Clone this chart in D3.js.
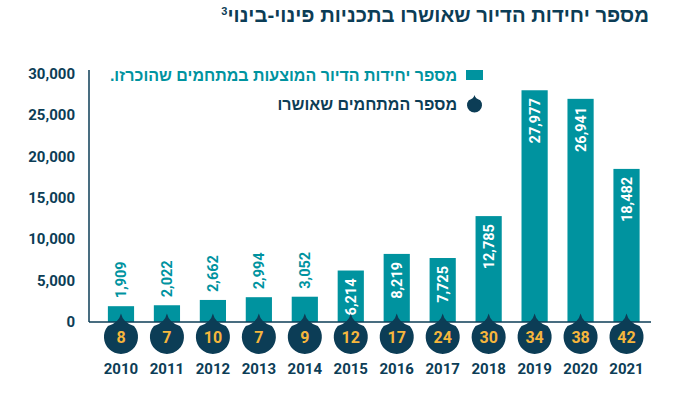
<!DOCTYPE html>
<html>
<head>
<meta charset="utf-8">
<script src="https://cdn.jsdelivr.net/npm/d3@7"></script>
<style>
  body { margin: 0; background: #fff; }
  svg { display: block; }
</style>
</head>
<body>
<div id="chart"></div>
<script>
// data
var years = ["2010", "2011", "2012", "2013", "2014", "2015", "2016", "2017", "2018", "2019", "2020", "2021"];
var units = [1909, 2022, 2662, 2994, 3052, 6214, 8219, 7725, 12785, 27977, 26941, 18482];
var projects = [8, 7, 10, 7, 9, 12, 17, 24, 30, 34, 38, 42];
var yTicks = [0, 5000, 10000, 15000, 20000, 25000, 30000];

var titleText = "מספר יחידות הדיור שאושרו בתכניות פינוי-בינוי";
var legendUnits = "מספר יחידות הדיור המוצעות במתחמים שהוכרזו.";
var legendProjects = "מספר המתחמים שאושרו";

var w = 689, h = 397;
var teal = "#00939f", navy = "#0c3d56", orange = "#f6b63c";
var numFont = "Roboto, 'DejaVu Sans', sans-serif";
var hebFont = "'Liberation Sans', 'DejaVu Sans', sans-serif";

var svg = d3.select("#chart").append("svg")
    .attr("width", w)
    .attr("height", h);

var x = d3.scaleBand()
    .domain(years)
    .range([98, 649.5])
    .paddingInner(0.43)
    .paddingOuter(0.215);

var y = d3.scaleLinear()
    .domain([0, 30000])
    .range([322, 73.5]);

// title
var title = svg.append("text")
    .attr("x", 649)
    .attr("y", 22)
    .attr("direction", "rtl")
    .style("font-family", hebFont)
    .style("font-weight", "bold")
    .style("font-size", "20.3px")
    .attr("fill", navy);
title.append("tspan").text(titleText);
title.append("tspan")
    .attr("dy", "-7")
    .style("font-size", "11px")
    .text("3");

// y axis labels
var yAxis = d3.axisLeft(y)
    .tickValues(yTicks)
    .tickSize(0)
    .tickPadding(14)
    .tickFormat(d3.format(","));

svg.append("g")
    .attr("transform", "translate(89,0)")
    .call(yAxis)
    .call(function(g) { g.select(".domain").remove(); })
    .selectAll("text")
    .style("font-family", numFont)
    .style("font-weight", "bold")
    .style("font-size", "15px")
    .attr("fill", navy);

// bars
svg.selectAll("rect.bar")
    .data(units)
    .enter().append("rect")
    .attr("class", "bar")
    .attr("x", function(d, i) { return x(years[i]); })
    .attr("width", x.bandwidth())
    .attr("y", function(d) { return y(d); })
    .attr("height", function(d) { return y(0) - y(d); })
    .attr("fill", teal);

// value labels (inside the bar when it is tall enough)
svg.selectAll("text.val")
    .data(units)
    .enter().append("text")
    .attr("class", "val")
    .attr("transform", function(d, i) {
        var cx = x(years[i]) + x.bandwidth() / 2;
        var ty = d >= 5000 ? y(d) + 8 : y(d) - 8;
        return "translate(" + cx + "," + ty + ") rotate(-90)";
    })
    .attr("dy", "0.36em")
    .attr("text-anchor", function(d) { return d >= 5000 ? "end" : "start"; })
    .style("font-family", numFont)
    .style("font-weight", "bold")
    .style("font-size", "14.5px")
    .attr("fill", function(d) { return d >= 5000 ? "#fff" : teal; })
    .text(function(d) { return d3.format(",")(d); });

// axes lines
svg.append("line")
    .attr("x1", 89).attr("x2", 89)
    .attr("y1", 70).attr("y2", 322)
    .attr("stroke", navy).attr("stroke-width", 1.5);
svg.append("line")
    .attr("x1", 89).attr("x2", 651)
    .attr("y1", 322).attr("y2", 322)
    .attr("stroke", navy).attr("stroke-width", 1.5);

// drop shaped markers
function dropPath(r, tip) {
    var a = 50 * Math.PI / 180;
    var px = r * Math.sin(a), py = -r * Math.cos(a);
    return "M0," + (-tip) +
        " Q" + (-r * 0.12) + "," + (py - r * 0.2) + " " + (-px) + "," + py +
        " A" + r + "," + r + " 0 1,0 " + px + "," + py +
        " Q" + (r * 0.12) + "," + (py - r * 0.2) + " 0," + (-tip) + "Z";
}

var drops = svg.selectAll("g.drop")
    .data(projects)
    .enter().append("g")
    .attr("class", "drop")
    .attr("transform", function(d, i) {
        return "translate(" + (x(years[i]) + x.bandwidth() / 2) + ",337)";
    });

drops.append("path")
    .attr("d", dropPath(17, 23.5))
    .attr("fill", navy);

drops.append("text")
    .attr("text-anchor", "middle")
    .attr("dy", "0.36em")
    .style("font-family", numFont)
    .style("font-weight", "bold")
    .style("font-size", "16px")
    .attr("fill", orange)
    .text(function(d) { return d; });

// year labels
svg.selectAll("text.year")
    .data(years)
    .enter().append("text")
    .attr("class", "year")
    .attr("x", function(d) { return x(d) + x.bandwidth() / 2; })
    .attr("y", 369)
    .attr("dy", "0.36em")
    .attr("text-anchor", "middle")
    .style("font-family", numFont)
    .style("font-weight", "bold")
    .style("font-size", "15px")
    .attr("fill", navy)
    .text(function(d) { return d; });

// legend
svg.append("rect")
    .attr("x", 466).attr("y", 70)
    .attr("width", 17).attr("height", 10)
    .attr("fill", teal);
svg.append("text")
    .attr("x", 457).attr("y", 75)
    .attr("dy", "0.36em")
    .attr("direction", "rtl")
    .style("font-family", hebFont)
    .style("font-weight", "bold")
    .style("font-size", "16px")
    .attr("fill", teal)
    .text(legendUnits);

svg.append("path")
    .attr("transform", "translate(474.5,105)")
    .attr("d", dropPath(7.5, 10))
    .attr("fill", navy);
svg.append("text")
    .attr("x", 457).attr("y", 104)
    .attr("dy", "0.36em")
    .attr("direction", "rtl")
    .style("font-family", hebFont)
    .style("font-weight", "bold")
    .style("font-size", "16px")
    .attr("fill", navy)
    .text(legendProjects);
</script>
</body>
</html>
